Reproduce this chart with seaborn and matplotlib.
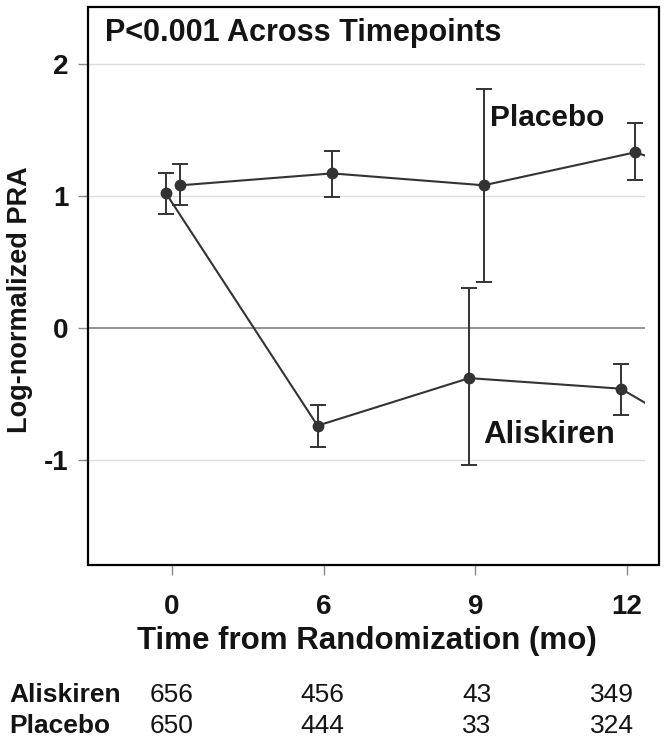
"""
PRA over time, aliskiren vs placebo, with n-at-risk table under the x axis.
"""

import numpy as np
import pandas as pd
import matplotlib
matplotlib.use("Agg")
import matplotlib.pyplot as plt
from matplotlib.patches import Rectangle
from matplotlib.transforms import blended_transform_factory
import seaborn as sns

# ---------------------------------------------------------------------------
# Data
# ---------------------------------------------------------------------------
MONTHS = [0, 6, 9, 12]
ARMS = ["Aliskiren", "Placebo"]

# last value per arm is the segment that runs off the right edge (15 mo, estimated)
aliskiren_mean = [1.02, -0.74, -0.38, -0.46, -1.13]
aliskiren_lo = [0.86, -0.90, -1.04, -0.66, np.nan]
aliskiren_hi = [1.17, -0.58, 0.30, -0.27, np.nan]

placebo_mean = [1.08, 1.17, 1.08, 1.33, 0.94]
placebo_lo = [0.93, 0.99, 0.35, 1.12, np.nan]
placebo_hi = [1.24, 1.34, 1.81, 1.55, np.nan]

n_aliskiren = [656, 456, 43, 349]
n_placebo = [650, 444, 33, 324]

P_TEXT = "P<0.001 Across Timepoints"

# ---------------------------------------------------------------------------
# Build long table
# ---------------------------------------------------------------------------
DODGE = {"Aliskiren": -0.04, "Placebo": 0.056}
series = {
    "Aliskiren": (aliskiren_mean, aliskiren_lo, aliskiren_hi),
    "Placebo": (placebo_mean, placebo_lo, placebo_hi),
}
rows = []
for arm, (m, lo, hi) in series.items():
    for i, (mv, lv, hv) in enumerate(zip(m, lo, hi)):
        rows.append({"arm": arm, "pos": i + DODGE[arm], "mean": mv,
                     "lo": lv, "hi": hv})
df = pd.DataFrame(rows)

# ---------------------------------------------------------------------------
# Plot
# ---------------------------------------------------------------------------
sns.set_style("white")
plt.rcParams["font.family"] = ["Liberation Sans", "DejaVu Sans"]
TXT = "#141414"
plt.rcParams.update({"text.color": TXT, "xtick.labelcolor": TXT,
                     "ytick.labelcolor": TXT, "axes.labelcolor": TXT})

DARK = "#333333"
fig = plt.figure(figsize=(6.66, 7.44), dpi=100)
ax = fig.add_axes([0.1321, 0.2406, 0.8363, 0.75])

for y in [2, 1, -1]:
    ax.axhline(y, color="#dcdcdc", lw=1.0, zorder=0)
ax.axhline(0, color="#8a8a8a", lw=1.3, zorder=0)

sns.lineplot(data=df, x="pos", y="mean", hue="arm", palette=[DARK, DARK],
             estimator=None, sort=False, marker="o", markersize=8.5,
             markeredgewidth=0, linewidth=1.5, legend=False, ax=ax,
             zorder=3)

for arm in ARMS:
    sub = df[df["arm"] == arm].dropna()
    ax.errorbar(sub["pos"], sub["mean"],
                yerr=[sub["mean"] - sub["lo"], sub["hi"] - sub["mean"]],
                fmt="none", ecolor=DARK, elinewidth=1.4, capsize=5.5,
                capthick=1.4, zorder=2)

ax.set_xlim(-0.554, 3.119)
ax.set_ylim(-1.795, 2.43)
ax.set_xticks(range(len(MONTHS)))
ax.set_xticklabels([str(m) for m in MONTHS])
ax.set_yticks([-1, 0, 1, 2])
ax.set_yticklabels(["-1", "0", "1", "2"])
ax.tick_params(axis="x", length=7, width=1, color="#8a8a8a", pad=14,
               labelsize=20, bottom=True, labelcolor=TXT)
ax.tick_params(axis="y", length=7, width=1, color="#8a8a8a", pad=7,
               labelsize=20, left=True, labelcolor=TXT)
for lab in ax.get_xticklabels() + ax.get_yticklabels():
    lab.set_fontweight("bold")
ax.set_xlabel("Time from Randomization (mo)", fontsize=22.5,
              fontweight="bold", labelpad=4, color=TXT)
ax.set_ylabel("")
for s in ax.spines.values():
    s.set_visible(False)

# the frame runs a little wider than the clipped plotting area
fig.patches.append(Rectangle((88 / 666, 1 - 565 / 744), (659 - 88) / 666,
                             (565 - 7) / 744, transform=fig.transFigure,
                             fill=False, lw=1.6, ec="black", zorder=5))

fig.text(20 / 666, 1 - 300 / 744, "Log-normalized PRA", rotation=90,
         ha="center", va="center", fontsize=19.5, fontweight="bold")
fig.text(105 / 666, 1 - 33 / 744, P_TEXT, ha="left", va="center",
         fontsize=22, fontweight="bold")

ax.text(2.097, 1.59, "Placebo", ha="left", va="center", fontsize=21.5,
        fontweight="bold")
ax.text(2.054, -0.81, "Aliskiren", ha="left", va="center", fontsize=22.5,
        fontweight="bold")

# numbers at risk
trans = blended_transform_factory(ax.transData, fig.transFigure)
table_x = [0, 0.99, 2.01, 2.9]
for label, counts, yy in [("Aliskiren", n_aliskiren, 1 - 695 / 744),
                          ("Placebo", n_placebo, 1 - 726 / 744)]:
    fig.text(9 / 666, yy, label, ha="left", va="center", fontsize=19,
             fontweight="bold")
    for x, c in zip(table_x, counts):
        ax.text(x, yy, str(c), transform=trans, ha="center", va="center",
                fontsize=19, clip_on=False)

fig.savefig("out.png", dpi=100)
